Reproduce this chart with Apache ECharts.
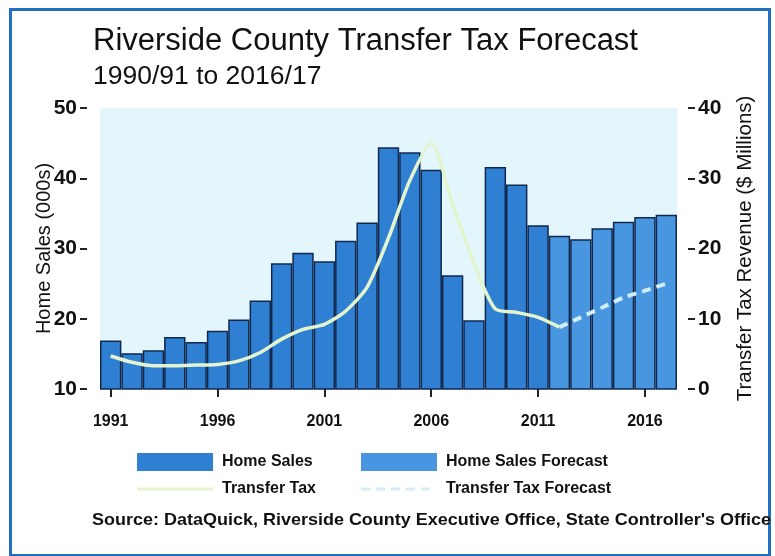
<!DOCTYPE html>
<html>
<head>
<meta charset="utf-8">
<title>Riverside County Transfer Tax Forecast</title>
<script src="https://cdn.jsdelivr.net/npm/echarts@6/dist/echarts.min.js"></script>
<style>
  html, body { margin: 0; padding: 0; background: #ffffff; }
  #chart { width: 775px; height: 556px; }
</style>
</head>
<body>
<div id="chart"></div>
<script>
// Fiscal years, labelled by ending year (1990/91 -> 1991)
const years = ['1991','1992','1993','1994','1995','1996','1997','1998','1999','2000',
               '2001','2002','2003','2004','2005','2006','2007','2008','2009','2010',
               '2011','2012','2013','2014','2015','2016','2017'];

// Home sales, thousands
const homeSalesActual   = [16.9, 15.1, 15.5, 17.4, 16.7, 18.3, 19.9, 22.6, 27.9, 29.4,
                           28.2, 31.1, 33.7, 44.4, 43.7, 41.2, 26.2, 19.8, 41.6, 39.1, 33.3];
const homeSalesForecast = [31.8, 31.3, 32.9, 33.8, 34.5, 34.8];

// Transfer tax revenue, $ millions
const transferTaxActual   = [4.7, 3.8, 3.3, 3.3, 3.4, 3.5, 4.0, 5.2, 7.1, 8.5, 9.2,
                             11.1, 14.5, 21.5, 29.7, 35.0, 26.3, 17.9, 11.4, 10.9, 10.2, 8.8];
const transferTaxForecast = [8.8, 10.2, 11.6, 13.0, 14.0, 15.0];

const leftTicks  = { min: 10, max: 50, interval: 10 };
const rightTicks = { min: 0,  max: 40, interval: 10 };

// Pad each series to the full year range
const n = years.length;
const padEnd   = (arr) => arr.concat(new Array(n - arr.length).fill(null));
const padStart = (arr) => new Array(n - arr.length).fill(null).concat(arr);

const FONT = '"Liberation Sans", Arial, Helvetica, sans-serif';

const legendText = { fontFamily: FONT, fontSize: 16, fontWeight: 'bold', color: '#111', padding: [0, 0, 0, 4] };

// Legend keys for the lines: a thick stroke across a 76x18 key box
// (the zero-length corner moves pin the box so the stroke is not stretched)
const KEY_BOX = 'M0,0L0,0M76,18L76,18';
const solidKey  = 'path://' + KEY_BOX + 'M0,7.5L76,7.5L76,10.5L0,10.5Z';
const dashedKey = 'path://' + KEY_BOX +
  [0, 15, 30, 45, 60].map(x => `M${x},7.5L${x + 9},7.5L${x + 9},10.5L${x},10.5Z`).join('');

const chart = echarts.init(document.getElementById('chart'), null, { renderer: 'canvas' });

chart.setOption({
  animation: false,
  backgroundColor: '#ffffff',
  textStyle: { fontFamily: FONT, color: '#111' },
  title: {
    text: 'Riverside County Transfer Tax Forecast',
    subtext: '1990/91 to 2016/17',
    left: 88,
    top: 21,
    itemGap: 6,
    textStyle: { fontFamily: FONT, fontSize: 31, fontWeight: 'normal', color: '#111' },
    subtextStyle: { fontFamily: FONT, fontSize: 26.5, fontWeight: 'normal', color: '#111' }
  },
  grid: {
    left: 100,
    right: 98,
    top: 108,
    height: 281,
    show: true,
    backgroundColor: '#e3f6fb',
    borderWidth: 0
  },
  legend: [
    {
      data: [{ name: 'Home Sales', icon: 'rect' }, { name: 'Transfer Tax', icon: solidKey }],
      orient: 'vertical',
      left: 137,
      top: 453,
      padding: 0,
      itemWidth: 76,
      itemHeight: 18,
      itemGap: 9,
      itemStyle: { borderWidth: 0 },
      textStyle: legendText
    },
    {
      data: [{ name: 'Home Sales Forecast', icon: 'rect' }, { name: 'Transfer Tax Forecast', icon: dashedKey }],
      orient: 'vertical',
      left: 361,
      top: 453,
      padding: 0,
      itemWidth: 76,
      itemHeight: 18,
      itemGap: 9,
      itemStyle: { borderWidth: 0 },
      textStyle: legendText
    }
  ],
  xAxis: {
    type: 'category',
    data: years,
    offset: 12,
    axisLine: { show: false },
    axisTick: {
      show: true,
      alignWithLabel: true,
      interval: 4,
      length: 8,
      lineStyle: { color: '#222', width: 2 }
    },
    axisLabel: {
      interval: 4,
      margin: 13,
      fontFamily: FONT,
      fontSize: 16,
      fontWeight: 'bold',
      color: '#111'
    },
    splitLine: { show: false }
  },
  yAxis: [
    {
      type: 'value',
      position: 'left',
      min: leftTicks.min,
      max: leftTicks.max,
      interval: leftTicks.interval,
      offset: 13,
      name: 'Home Sales (000s)',
      nameLocation: 'middle',
      nameGap: 33,
      nameMoveOverlap: false,
      nameTextStyle: { fontFamily: FONT, fontSize: 20, color: '#111' },
      axisLine: { show: false },
      axisTick: { show: true, length: 7, lineStyle: { color: '#222', width: 2 } },
      axisLabel: { margin: 10, fontFamily: FONT, fontSize: 21, fontWeight: 'bold', color: '#111' },
      splitLine: { show: false }
    },
    {
      type: 'value',
      position: 'right',
      min: rightTicks.min,
      max: rightTicks.max,
      interval: rightTicks.interval,
      offset: 11,
      name: 'Transfer Tax Revenue ($ Millions)',
      nameLocation: 'middle',
      nameGap: 47,
      nameRotate: 90,
      nameMoveOverlap: false,
      nameTextStyle: { fontFamily: FONT, fontSize: 20.5, color: '#111' },
      axisLine: { show: false },
      axisTick: { show: true, length: 7, lineStyle: { color: '#222', width: 2 } },
      axisLabel: { margin: 10, fontFamily: FONT, fontSize: 21, fontWeight: 'bold', color: '#111' },
      splitLine: { show: false }
    }
  ],
  series: [
    {
      name: 'Home Sales',
      type: 'bar',
      yAxisIndex: 0,
      data: padEnd(homeSalesActual),
      barWidth: '100%',
      barGap: '-100%',
      itemStyle: { color: '#2f80d2', borderColor: '#10284f', borderWidth: 1.5 },
      z: 2
    },
    {
      name: 'Home Sales Forecast',
      type: 'bar',
      yAxisIndex: 0,
      data: padStart(homeSalesForecast),
      barWidth: '100%',
      barGap: '-100%',
      itemStyle: { color: '#4796df', borderColor: '#10284f', borderWidth: 1.5 },
      z: 2
    },
    {
      name: 'Transfer Tax',
      type: 'line',
      yAxisIndex: 1,
      data: padEnd(transferTaxActual),
      smooth: 0.25,
      symbol: 'none',
      lineStyle: { color: '#e3f4cf', width: 3.5 },
      itemStyle: { color: '#e3f4cf' },
      z: 5
    },
    {
      name: 'Transfer Tax Forecast',
      type: 'line',
      yAxisIndex: 1,
      data: padStart(transferTaxForecast),
      smooth: 0.25,
      symbol: 'none',
      lineStyle: { color: '#d3edf6', width: 4, type: [9, 6] },
      itemStyle: { color: '#d3edf6' },
      z: 5
    }
  ],
  graphic: [
    {
      type: 'rect',
      left: 8,
      top: 7,
      shape: { width: 759, height: 546 },
      style: { fill: 'none', stroke: '#1f6fc2', lineWidth: 3 },
      z: 1,
      silent: true
    },
    {
      type: 'text',
      x: 92,
      y: 512,
      scaleX: 1.09,
      style: {
        text: "Source: DataQuick, Riverside County Executive Office, State Controller's Office",
        font: 'bold 16.5px ' + FONT,
        fill: '#111'
      },
      z: 10
    }
  ]
});
</script>
</body>
</html>
